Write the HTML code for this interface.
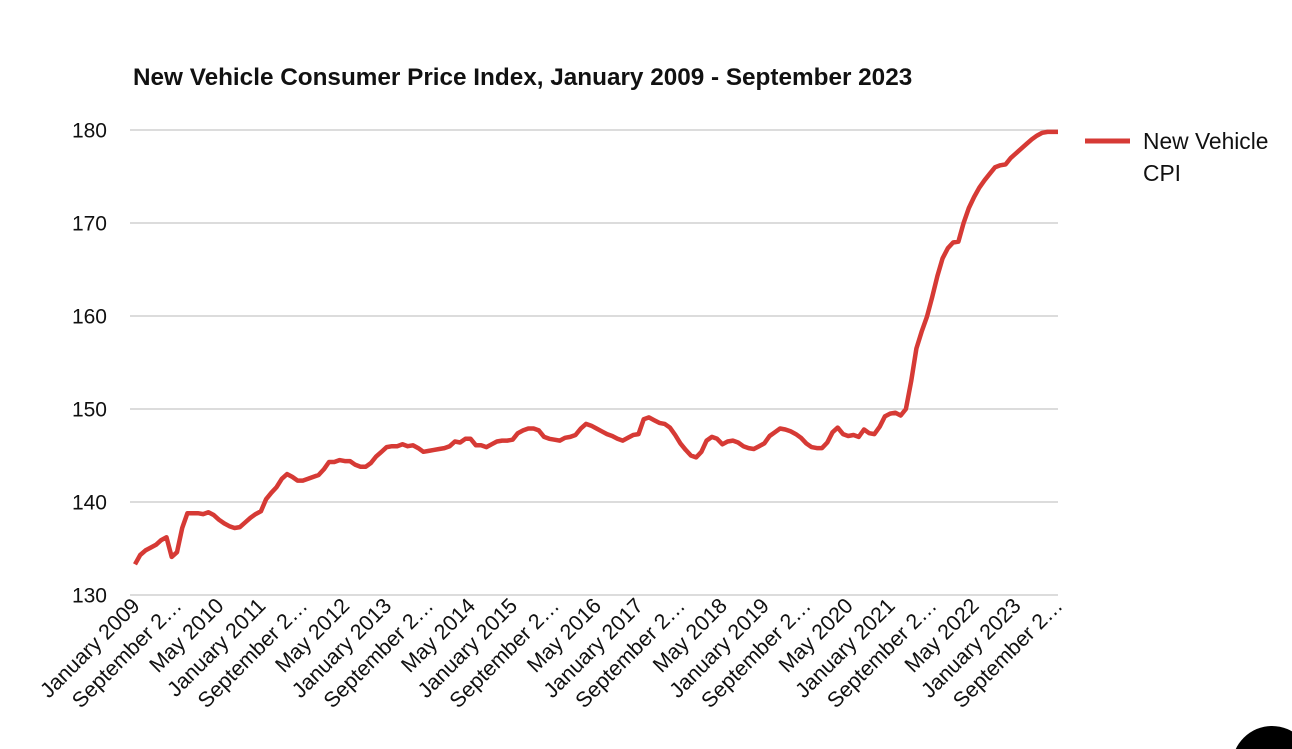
<!DOCTYPE html>
<html><head><meta charset="utf-8">
<style>
body{margin:0;background:#fff;width:1292px;height:749px;overflow:hidden;font-family:"Liberation Sans",sans-serif;}
svg{display:block}
</style></head>
<body>
<svg id="chart" width="1292" height="749" viewBox="0 0 1292 749">
<text x="133" y="85" font-size="24.3" font-weight="bold" fill="#111">New Vehicle Consumer Price Index, January 2009 - September 2023</text>
<g id="grid"></g><g id="ylabels"></g><g id="xlabels"></g>
<path id="line" fill="none" stroke="#d63a35" stroke-width="4.5" stroke-linejoin="round"/>
<g>
<line x1="1085" y1="141" x2="1130" y2="141" stroke="#d63a35" stroke-width="5"/>
<text x="1143" y="149" font-size="22.8" fill="#111">New Vehicle</text>
<text x="1143" y="181" font-size="22.8" fill="#111">CPI</text>
</g>
<circle cx="1272" cy="766" r="40" fill="#000"/>
</svg>
<script>
const monthNames=["January","February","March","April","May","June","July","August","September","October","November","December"];
const yTicks=[130,140,150,160,170,180];
const cpiValues=[
133.3,134.3,134.8,135.1,135.4,135.9,136.2,134.1,134.6,137.2,138.8,138.8,
138.8,138.7,138.9,138.6,138.1,137.7,137.4,137.2,137.3,137.8,138.3,138.7,
139.0,140.3,141.0,141.6,142.5,143.0,142.7,142.3,142.3,142.5,142.7,142.9,
143.5,144.3,144.3,144.5,144.4,144.4,144.0,143.8,143.8,144.2,144.9,145.4,
145.9,146.0,146.0,146.2,146.0,146.1,145.8,145.4,145.5,145.6,145.7,145.8,
146.0,146.5,146.4,146.8,146.8,146.1,146.1,145.9,146.2,146.5,146.6,146.6,
146.7,147.4,147.7,147.9,147.9,147.7,147.0,146.8,146.7,146.6,146.9,147.0,
147.2,147.9,148.4,148.2,147.9,147.6,147.3,147.1,146.8,146.6,146.9,147.2,
147.3,148.9,149.1,148.8,148.5,148.4,148.0,147.2,146.3,145.6,145.0,144.8,
145.4,146.6,147.0,146.8,146.2,146.5,146.6,146.4,146.0,145.8,145.7,146.0,
146.3,147.1,147.5,147.9,147.8,147.6,147.3,146.9,146.3,145.9,145.8,145.8,
146.4,147.5,148.0,147.3,147.1,147.2,147.0,147.8,147.4,147.3,148.1,149.2,
149.5,149.6,149.3,150.0,153.0,156.5,158.3,159.9,162.0,164.3,166.2,167.3,
167.9,168.0,170.0,171.6,172.8,173.8,174.6,175.3,176.0,176.2,176.3,177.0,
177.5,178.0,178.5,179.0,179.4,179.7,179.8,179.8,179.8];
const x0=135,x1=1058,yTop=130,yBot=595,yMin=130,yMax=180;
const n=cpiValues.length;
const xs=i=>x0+i*(x1-x0)/(n-1);
const ys=v=>yBot-(v-yMin)/(yMax-yMin)*(yBot-yTop);
const NS="http://www.w3.org/2000/svg";
const grid=document.getElementById('grid'),yl=document.getElementById('ylabels'),xl=document.getElementById('xlabels');
yTicks.forEach(t=>{
 const l=document.createElementNS(NS,'line');
 
 
 l.setAttribute('x1',130);l.setAttribute('x2',x1);l.setAttribute('y1',ys(t));l.setAttribute('y2',ys(t));
 l.setAttribute('stroke','#c8c8c8');l.setAttribute('stroke-width','1.3');grid.appendChild(l);
 const tx=document.createElementNS(NS,'text');
 
 
 tx.setAttribute('x',107);tx.setAttribute('y',ys(t)+7.5);tx.setAttribute('text-anchor','end');
 tx.setAttribute('font-size','21');tx.setAttribute('fill','#111');tx.textContent=t;yl.appendChild(tx);
});
for(let i=0;i<n;i+=8){
 const m=i%12,y=2009+Math.floor(i/12);
 let s=monthNames[m]+' '+y; if(s.length>12) s=monthNames[m]+' 2…';
 const tx=document.createElementNS(NS,'text');
 
 
 const px=xs(i)+6,py=607;
 tx.setAttribute('x',px);tx.setAttribute('y',py);tx.setAttribute('text-anchor','end');
 tx.setAttribute('transform','rotate(-45 '+px+' '+py+')');
 tx.setAttribute('font-size','21.5');tx.setAttribute('fill','#111');tx.textContent=s;xl.appendChild(tx);
}
document.getElementById('line').setAttribute('d',cpiValues.map((v,i)=>(i?'L':'M')+xs(i).toFixed(1)+' '+ys(v).toFixed(1)).join(' '));
</script>
</body></html>
